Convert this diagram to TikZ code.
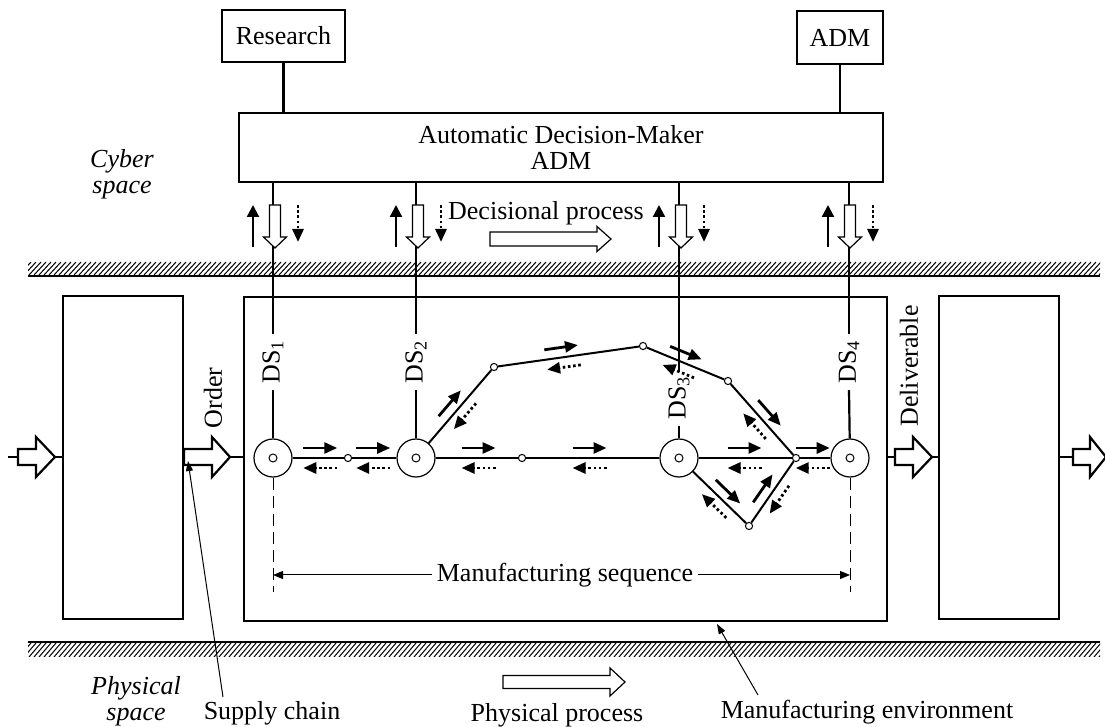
\documentclass[tikz,border=0pt]{standalone}
\usepackage{fontspec}
\setmainfont{Liberation Serif}
\usetikzlibrary{arrows.meta,calc}
\newcommand\fs{\fontsize{13}{13}\selectfont}
\tikzset{
 box/.style={draw, line width=1.1pt, inner sep=0pt, font=\fs, align=center},
 stn/.style={draw, circle, line width=0.6pt, minimum size=19pt, inner sep=0pt, fill=white},
 jn/.style={draw, circle, line width=0.5pt, minimum size=3.6pt, inner sep=0pt, fill=white},
 mainln/.style={line width=1pt},
 dsln/.style={line width=1.1pt},
 farr/.style={line width=1.4pt, -{Triangle[length=6.5pt,width=5.5pt]}},
 barr/.style={line width=1.4pt, dash pattern=on 1.3pt off 1.3pt, -{Triangle[length=6.5pt,width=5.5pt]}},
 uparr/.style={line width=1.1pt, -{Triangle[length=6pt,width=6pt]}},
 ptr/.style={line width=0.5pt, -{Triangle[length=5pt,width=3.5pt]}},
 hollow/.style={draw, line width=0.6pt, fill=white},
 block/.style={draw, line width=1.1pt, fill=white},
 dslab/.style={rotate=90, inner sep=3pt, font=\fs},
 txt/.style={font=\fs, inner sep=1pt, align=center},
 itxt/.style={font=\fs\itshape, inner sep=1pt, align=center},
 seqarr/.style={line width=0.5pt, -{Triangle[length=5pt,width=4pt]}},
 dsh/.style={line width=0.5pt, dash pattern=on 6pt off 3pt},
}
\newcommand\harr[7]{\draw[#7] (#1,#4-#5) -- (#2,#4-#5) -- (#2,#4-#6) -- (#3,#4) -- (#2,#4+#6) -- (#2,#4+#5) -- (#1,#4+#5) -- cycle;}
\newcommand\pairs[3]{%
 \draw[farr] ($(#1)!#3!(#2)!-8.5pt!(#2)!5pt!90:(#2)$) -- ($(#1)!#3!(#2)!8.5pt!(#2)!5pt!90:(#2)$);
 \draw[barr] ($(#1)!#3!(#2)!8.5pt!(#2)!5pt!-90:(#2)$) -- ($(#1)!#3!(#2)!-8.5pt!(#2)!5pt!-90:(#2)$);}
\newcommand\hatchband[3]{%
 \begin{scope}
 \clip (28,#1) rectangle (1100,#2);
 \foreach \hx in {14,19,...,1100} {\draw[line width=0.5pt] (\hx,#2) -- (\hx+12,#1);}
 \end{scope}
 \draw[line width=1.1pt] (28,#3) -- (1100,#3);}
\begin{document}
\begin{tikzpicture}[x=0.5pt,y=-0.5pt]
\useasboundingbox (0,0) rectangle (1105,727);
% hatched boundaries
\hatchband{262}{275}{276}
\hatchband{643}{657}{642}
% cyber boxes
\node[box, minimum width=61.5pt, minimum height=26pt] (research) at (283.5,36) {Research};
\node[box, minimum width=43pt, minimum height=26.5pt] (admsmall) at (840,37.5) {ADM};
\node[box, minimum width=322pt, minimum height=34.5pt] (adm) at (561,147.5) {Automatic Decision-Maker\\ADM};
\draw[dsln] (research.south) -- (research.south |- adm.north);
\draw[dsln] (admsmall.south) -- (admsmall.south |- adm.north);
% physical boxes
\node[box, minimum width=60pt, minimum height=161.5pt] (lbox) at (123,457.5) {};
\node[box, minimum width=321.5pt, minimum height=162pt] (env) at (565.5,459) {};
\node[box, minimum width=60pt, minimum height=161.5pt] (rbox) at (999,457.5) {};
% stations and junctions
\node[stn] (s1) at (273,458) {};
\node[stn] (s2) at (416,458) {};
\node[stn] (s3) at (679,458) {};
\node[stn] (s4) at (850,458) {};
\foreach \s in {s1,s2,s3,s4} {\draw[line width=0.5pt] (\s.center) circle (2pt);}
\node[jn] (n1) at (348,458) {};
\node[jn] (n2) at (522,458) {};
\node[jn] (p1) at (494,367) {};
\node[jn] (p2) at (643,346) {};
\node[jn] (p3) at (728,381) {};
\node[jn] (J) at (796,458) {};
\node[jn] (q) at (749,526) {};
% DS labels
\node[dslab] (ds1) at (273,362) {DS\textsubscript{1}};
\node[dslab] (ds2) at (416,362) {DS\textsubscript{2}};
\node[dslab] (ds3) at (679,398) {DS\textsubscript{3}};
\node[dslab] (ds4) at (849,362) {DS\textsubscript{4}};
\foreach \d/\s in {ds1/s1,ds2/s2,ds4/s4} {
  \draw[dsln] (adm.south -| \d) -- (\d.east);
  \draw[dsln] (\d.west) -- (\s);
}
\draw[dsln] (adm.south -| ds3) -- (679,372);
\draw[dsln] (ds3.west) -- (s3);
% process lines
\draw[mainln] (s1) -- (n1) -- (s2) -- (n2) -- (s3) -- (J) -- (s4);
\draw[mainln] (s2) -- (p1) -- (p2) -- (p3) -- (J);
\draw[mainln] (s3) -- (q) -- (J);
% flow arrows
\pairs{s1}{n1}{0.63}
\pairs{n1}{s2}{0.37}
\pairs{s2}{n2}{0.59}
\pairs{n2}{s3}{0.43}
\pairs{s3}{J}{0.56}
\pairs{J}{s4}{0.31}
\pairs{s2}{p1}{0.53}
\pairs{p1}{p2}{0.46}
\pairs{p2}{p3}{0.46}
\pairs{p3}{J}{0.5}
\pairs{s3}{q}{0.6}
\pairs{q}{J}{0.47}
% cyber arrows
\foreach \x in {273,416,679,848} {
  \draw[uparr] (\x-20,247) -- (\x-20,205);
  \draw[barr] (\x+25,205) -- (\x+25,242);
  \draw[hollow] (\x-3.5,205) -- (\x+7.5,205) -- (\x+7.5,237) -- (\x+13.5,237) -- (\x+2,248) -- (\x-9.5,237) -- (\x-3.5,237) -- cycle;
}
% texts
\node[itxt] (cyber) at (122,174) {Cyber\\space};
\node[itxt] (phys) at (136,701) {Physical\\space};
\node[txt] (dec) at (546,213) {Decisional process};
\harr{490}{597}{611}{239}{7}{12.5}{hollow}
\node[txt] (pp) at (557,715) {Physical process};
\harr{503}{610}{625}{682}{6.5}{14}{hollow}
\node[txt, rotate=90] (order) at (213,398) {Order};
\node[txt, rotate=90] (deliv) at (909,366) {Deliverable};
% block arrows
\draw[dsln] (8,457) -- (18,457);
\harr{18}{36}{55}{457}{8}{20}{block}
\draw[dsln] (55,457) -- (lbox.west |- 0,457);
\harr{184}{212}{230}{457}{8}{20}{block}
\draw[dsln] (230,457) -- (env.west |- 0,457);
\draw[dsln] (env.east |- 0,457) -- (895,457);
\harr{895}{913}{932}{457}{8}{20}{block}
\draw[dsln] (932,457) -- (rbox.west |- 0,457);
\draw[dsln] (rbox.east |- 0,457) -- (1073,457);
\harr{1073}{1090}{1106}{457}{8}{20}{block}
% manufacturing sequence
\draw[dsh] (s1.south) -- (273,592);
\draw[dsh] (s4.south) -- (850,592);
\node[txt, fill=white, inner sep=2pt] (ms) at (565,575) {Manufacturing sequence};
\draw[seqarr] (ms.west) -- (ms.west -| s1);
\draw[seqarr] (ms.east) -- (ms.east -| s4);
% pointers
\node[txt] (sc) at (272,713) {Supply chain};
\coordinate (sctail) at (223,697);
\coordinate (sctip) at (188,461);
\draw[ptr] (sctail) -- (sctip);
\node[txt] (me) at (867,712) {Manufacturing environment};
\coordinate (metail) at (758,695);
\coordinate (metip) at (717,624);
\draw[ptr] (metail) -- (metip);
\end{tikzpicture}
\end{document}
